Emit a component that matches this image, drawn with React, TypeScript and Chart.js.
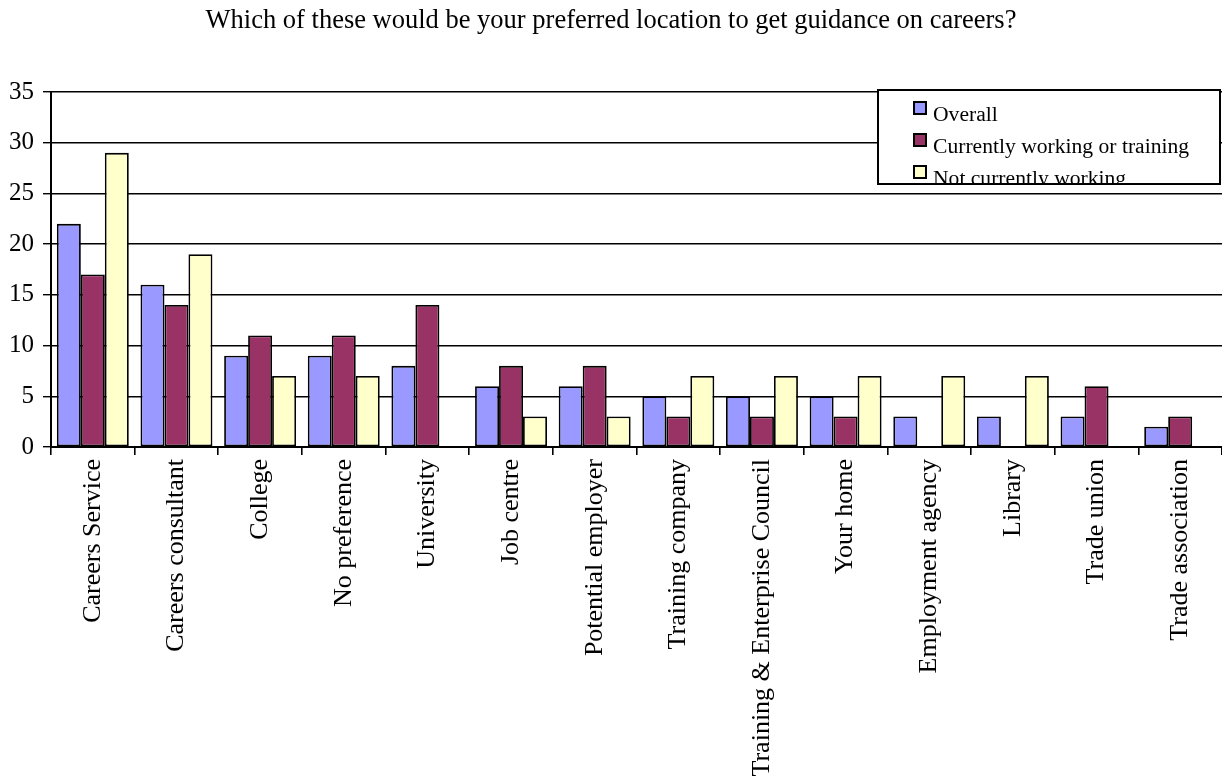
import React, { useEffect, useRef } from "react";
import { Chart, registerables } from "chart.js";

Chart.register(...registerables);

const titleText =
  "Which of these would be your preferred location to get guidance on careers?";

const categories = [
  "Careers Service",
  "Careers consultant",
  "College",
  "No preference",
  "University",
  "Job centre",
  "Potential employer",
  "Training company",
  "Training & Enterprise Council",
  "Your home",
  "Employment agency",
  "Library",
  "Trade union",
  "Trade association",
];

const seriesNames = ["Overall", "Currently working or training", "Not currently working"];
const seriesColors = ["#9999FF", "#993366", "#FFFFCC"];

const overall = [22, 16, 9, 9, 8, 6, 6, 5, 5, 5, 3, 3, 3, 2];
const working = [17, 14, 11, 11, 14, 8, 8, 3, 3, 3, 0, 0, 6, 3];
const notWorking = [29, 19, 7, 7, 0, 3, 3, 7, 7, 7, 7, 7, 0, 0];

const yMin = 0;
const yMax = 35;
const yStep = 5;

const SERIF = "'Liberation Serif', 'Times New Roman', serif";

// Boxed legend drawn inside the top-right corner of the plot
const boxLegend = {
  id: "boxLegend",
  afterDraw(chart: any) {
    const ctx = chart.ctx as CanvasRenderingContext2D;
    const x0 = 878;
    const y0 = 90;
    const w = 342;
    const h = 94;
    ctx.save();
    ctx.fillStyle = "#ffffff";
    ctx.fillRect(x0, y0, w, h);
    ctx.beginPath();
    ctx.rect(x0, y0, w, h);
    ctx.clip();
    ctx.font = `21.6px ${SERIF}`;
    ctx.textBaseline = "alphabetic";
    ctx.textAlign = "left";
    chart.data.datasets.forEach((ds: any, i: number) => {
      const base = y0 + 31 + i * 32;
      ctx.fillStyle = ds.backgroundColor;
      ctx.fillRect(914, base - 19, 12, 12);
      ctx.strokeStyle = "#000";
      ctx.lineWidth = 2;
      ctx.strokeRect(914, base - 19, 12, 12);
      ctx.fillStyle = "#000";
      ctx.fillText(ds.label, 933, base);
    });
    ctx.restore();
    ctx.save();
    ctx.strokeStyle = "#000";
    ctx.lineWidth = 2;
    ctx.strokeRect(x0, y0, w, h);
    ctx.restore();
  },
};

export default function App() {
  const canvasRef = useRef<HTMLCanvasElement | null>(null);

  useEffect(() => {
    if (!canvasRef.current) return;
    const series = [overall, working, notWorking];
    const chart = new Chart(canvasRef.current, {
      type: "bar",
      data: {
        labels: categories,
        datasets: series.map((values, i) => ({
          label: seriesNames[i],
          data: values,
          backgroundColor: seriesColors[i],
          borderColor: "#000",
          borderWidth: (c: any) => (c.raw === 0 ? 0 : 1.8),
          borderSkipped: false,
          categoryPercentage: 0.86,
          barPercentage: 1,
        })),
      },
      options: {
        responsive: false,
        animation: false,
        maintainAspectRatio: false,
        layout: { padding: { top: 0, right: 0, bottom: 0, left: 0 } },
        plugins: {
          legend: { display: false },
          tooltip: { enabled: false },
          title: {
            display: true,
            text: titleText,
            color: "#000",
            font: { family: SERIF, size: 26.5, weight: "normal" },
            padding: { top: 5, bottom: 55.2 },
          },
        },
        scales: {
          x: {
            offset: true,
            grid: {
              offset: true,
              drawOnChartArea: false,
              drawTicks: true,
              tickLength: 8,
              color: "#000",
              lineWidth: 1.6,
            },
            border: { display: true, color: "#000", width: 2 },
            ticks: {
              autoSkip: false,
              maxRotation: 90,
              minRotation: 90,
              padding: 4,
              color: "#000",
              font: { family: SERIF, size: 26 },
            },
            afterFit(scale: any) {
              scale.height = 332;
            },
          },
          y: {
            min: yMin,
            max: yMax,
            ticks: {
              stepSize: yStep,
              padding: 9,
              color: "#000",
              font: { family: SERIF, size: 25 },
            },
            grid: {
              color: "#000",
              lineWidth: 1.4,
              tickLength: 8,
            },
            border: { display: true, color: "#000", width: 2 },
            afterFit(scale: any) {
              scale.width = 51;
            },
          },
        },
      },
      plugins: [boxLegend],
    });
    return () => chart.destroy();
  }, []);

  return (
    <div style={{ position: "fixed", left: 0, top: 0, width: 1222, height: 779, background: "#fff" }}>
      <canvas ref={canvasRef} width={1222} height={779} style={{ display: "block" }} />
    </div>
  );
}
